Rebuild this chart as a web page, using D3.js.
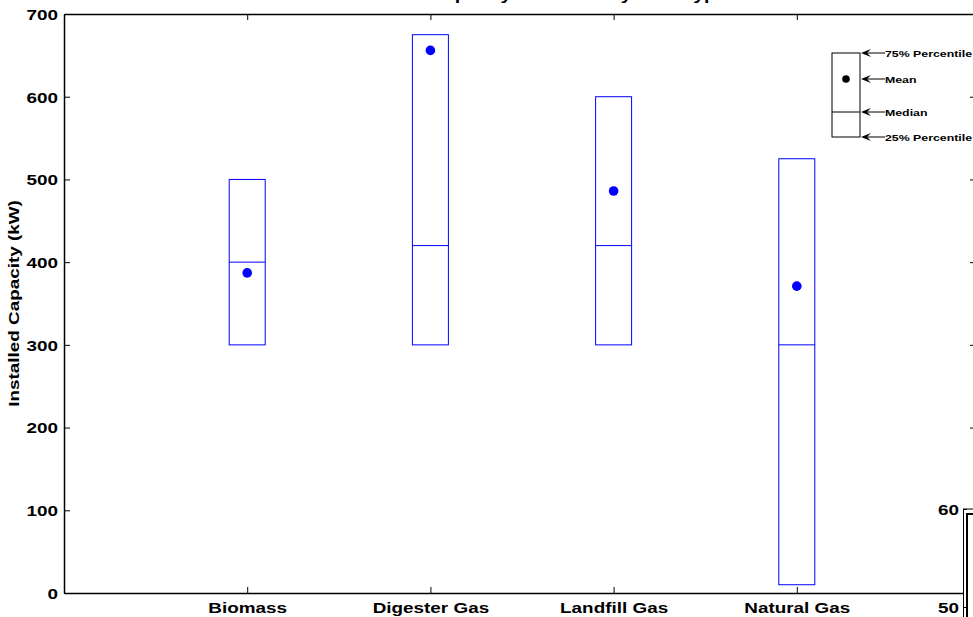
<!DOCTYPE html>
<html>
<head>
<meta charset="utf-8">
<script src="https://cdn.jsdelivr.net/npm/d3@7/dist/d3.min.js"></script>
<style>
  html, body { margin: 0; padding: 0; background: #fff; }
  svg { display: block; }
  text { font-family: "Liberation Sans", Arial, Helvetica, sans-serif; font-weight: bold; fill: #000; }
</style>
</head>
<body>
<svg id="chart" width="973" height="617"></svg>
<script>
// ---- data ----
const categories = ["Biomass", "Digester Gas", "Landfill Gas", "Natural Gas"];
const p25 = [300, 300, 300, 10];
const p75 = [500, 675, 600, 525];
const medians = [400, 420, 420, 300];
const means = [387, 656, 486, 371];
const yTicks = [0, 100, 200, 300, 400, 500, 600, 700];
const legendLabels = ["75% Percentile", "Mean", "Median", "25% Percentile"];
const insetTicks = [50, 60];
const titleText = "Installed Capacity Statistics by Fuel Type";
const yLabel = "Installed Capacity (kW)";

// ---- layout ----
const L = 64, R = 980, T = 14, B = 593;
const RA = 976; // right axis line (just off the visible area)
const S = 1.26; // horizontal glyph stretch of the original rendering
const svg = d3.select("#chart");

const x = d3.scaleLinear().domain([0, 5]).range([L, R]);
const y = d3.scaleLinear().domain([0, 700]).range([B, T]);

function stretchedText(g, str, tx, ty, anchor, size, rot) {
  return g.append("text")
    .attr("transform", `translate(${tx},${ty})` + (rot ? ` rotate(${rot})` : "") + ` scale(${S},1)`)
    .attr("text-anchor", anchor)
    .style("font-size", size + "px")
    .text(str);
}

// title (mostly clipped at the top edge, as in the reference)
stretchedText(svg, titleText, 536, 0, "middle", 15.5, 0);

// boxes
const boxW = 36;
const gb = svg.append("g");
categories.forEach((c, i) => {
  const cx = x(i + 1);
  gb.append("rect")
    .attr("x", cx - boxW / 2).attr("y", y(p75[i]))
    .attr("width", boxW).attr("height", y(p25[i]) - y(p75[i]))
    .attr("fill", "none").attr("stroke", "#0000ff").attr("stroke-width", 1);
  gb.append("line")
    .attr("x1", cx - boxW / 2).attr("x2", cx + boxW / 2)
    .attr("y1", y(medians[i])).attr("y2", y(medians[i]))
    .attr("stroke", "#0000ff").attr("stroke-width", 1);
  gb.append("circle")
    .attr("cx", cx).attr("cy", y(means[i])).attr("r", 4.8)
    .attr("fill", "#0000ff");
});

// axes
function styleAxis(g) {
  g.selectAll("path.domain").attr("stroke", "#000").attr("stroke-width", 1.5);
  g.selectAll(".tick line").attr("stroke", "#000").attr("stroke-width", 1);
}
const gl = svg.append("g").attr("transform", `translate(${L},0)`)
  .call(d3.axisLeft(y).tickValues(yTicks).tickSize(-6).tickSizeOuter(0).tickPadding(6));
styleAxis(gl);
gl.selectAll(".tick text")
  .attr("x", -6 / S).attr("dy", "0.36em")
  .attr("transform", `scale(${S},1)`)
  .style("font-size", "15px").style("font-family", null);

const gbt = svg.append("g").attr("transform", `translate(0,${B})`)
  .call(d3.axisBottom(x).tickValues([1, 2, 3, 4]).tickSize(-6).tickSizeOuter(0)
    .tickFormat(d => categories[d - 1]));
styleAxis(gbt);
gbt.selectAll(".tick text")
  .attr("y", 20).attr("dy", 0)
  .attr("transform", `scale(${S},1)`)
  .style("font-size", "15px").style("font-family", null);

const gt = svg.append("g").attr("transform", `translate(0,${T})`)
  .call(d3.axisTop(x).tickValues([1, 2, 3, 4]).tickSize(-6).tickSizeOuter(0).tickFormat(""));
styleAxis(gt);
const gr = svg.append("g").attr("transform", `translate(${RA},0)`)
  .call(d3.axisRight(y).tickValues(yTicks).tickSize(-6).tickSizeOuter(0).tickFormat(""));
styleAxis(gr);

// y label
stretchedText(svg, yLabel, 19, (T + B) / 2, "middle", 15, -90);

// legend (box-plot key)
const lg = svg.append("g");
const lx0 = 832, lx1 = 860;
const lyTop = 53, lyMean = 79, lyMed = 112, lyBot = 137;
lg.append("rect").attr("x", lx0).attr("y", lyTop).attr("width", lx1 - lx0).attr("height", lyBot - lyTop)
  .attr("fill", "none").attr("stroke", "#000").attr("stroke-width", 1);
lg.append("line").attr("x1", lx0).attr("x2", lx1).attr("y1", lyMed).attr("y2", lyMed)
  .attr("stroke", "#000").attr("stroke-width", 1);
lg.append("circle").attr("cx", 846).attr("cy", lyMean).attr("r", 3.8).attr("fill", "#000");
[lyTop, lyMean, lyMed, lyBot].forEach((ly, i) => {
  lg.append("line").attr("x1", 866).attr("x2", 885).attr("y1", ly).attr("y2", ly)
    .attr("stroke", "#000").attr("stroke-width", 1);
  lg.append("path")
    .attr("d", `M${lx1 + 1},${ly} L${lx1 + 11},${ly - 4} L${lx1 + 7},${ly} L${lx1 + 11},${ly + 4} Z`)
    .attr("fill", "#000");
  stretchedText(lg, legendLabels[i], 885, ly + 3.5, "start", 9.8, 0);
});

// clipped second axes (bottom right corner)
const yi = d3.scaleLinear().domain([49, 60]).range([616.8, 509]);
const gi = svg.append("g");
gi.append("rect").attr("x", 963).attr("y", 509).attr("width", 40).attr("height", 140)
  .attr("fill", "#fff");
const ga = gi.append("g").attr("transform", "translate(963,0)")
  .call(d3.axisLeft(yi).tickValues(insetTicks).tickSize(-4).tickSizeOuter(0).tickPadding(4));
ga.selectAll("path.domain").attr("stroke", "#000").attr("stroke-width", 1);
ga.selectAll(".tick line").attr("stroke", "#000");
ga.selectAll(".tick text")
  .attr("x", -4 / S).attr("dy", "0.36em")
  .attr("transform", `scale(${S},1)`)
  .style("font-size", "15px").style("font-family", null);
gi.append("line").attr("x1", 963).attr("x2", 973).attr("y1", 509).attr("y2", 509)
  .attr("stroke", "#000").attr("stroke-width", 1);
gi.append("rect").attr("x", 967).attr("y", 514).attr("width", 40).attr("height", 140)
  .attr("fill", "none").attr("stroke", "#000").attr("stroke-width", 2);
</script>
</body>
</html>
